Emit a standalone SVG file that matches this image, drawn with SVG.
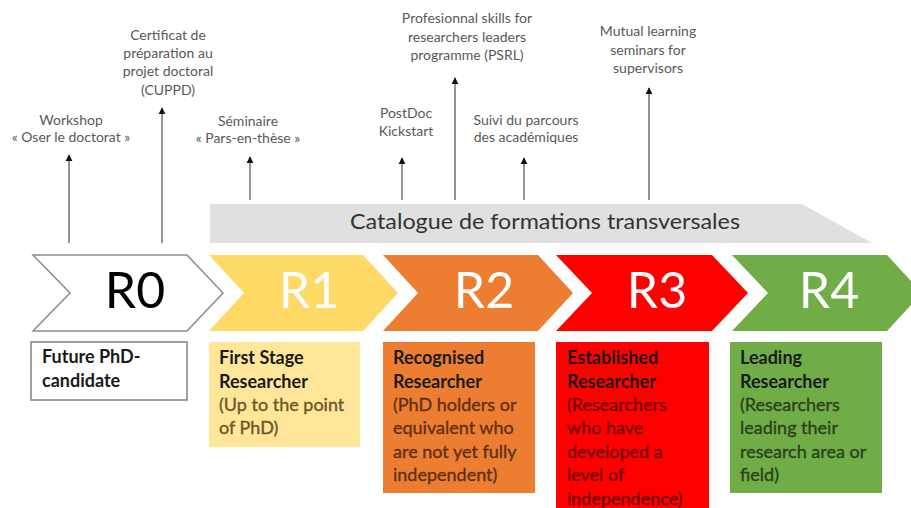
<svg xmlns="http://www.w3.org/2000/svg" width="911" height="508" viewBox="0 0 911 508">
  <style>
    .lbl { font-family: Lato, "Liberation Sans", sans-serif; font-size: 14px; fill: #595959; text-anchor: middle; }
    .band-text { font-family: Lato, "Liberation Sans", sans-serif; font-size: 21px; fill: #333333; text-anchor: middle; }
    .rk { font-family: Lato, "Liberation Sans", sans-serif; font-size: 50px; fill: #ffffff; text-anchor: middle; }
    .desc { font-family: Lato, "Liberation Sans", sans-serif; font-size: 18px; stroke-width: 0.35; }
    .b { font-weight: bold; fill: #1a1a1a; }
    .t1 { fill: #6b5628; stroke: #6b5628; }
    .t2 { fill: #5e3114; stroke: #5e3114; }
    .t3 { fill: #700000; stroke: #700000; }
    .t4 { fill: #2a4219; stroke: #2a4219; }
    .link { stroke: #959595; stroke-width: 2; fill: none; marker-end: url(#head); }
  </style>
  <defs>
    <marker id="head" viewBox="0 0 10 10" refX="9" refY="5" markerWidth="3.6" markerHeight="3.6" orient="auto">
      <path d="M0,0 L10,5 L0,10 Z" fill="#111111"/>
    </marker>
  </defs>
  <rect width="911" height="508" fill="#ffffff"/>

  <!-- transversal training catalogue band -->
  <g id="catalogue">
    <polygon points="210,204 802,204 872,243 210,243" fill="#e0e0e0"/>
    <text class="band-text" x="545" y="229" textLength="390" lengthAdjust="spacingAndGlyphs">Catalogue de formations transversales</text>
  </g>

  <!-- training offers -->
  <g id="workshop">
    <text class="lbl" x="71" y="125">Workshop</text>
    <text class="lbl" x="71" y="142">« Oser le doctorat »</text>
  </g>
  <g id="cuppd">
    <text class="lbl" x="168" y="40">Certificat de</text>
    <text class="lbl" x="168" y="58">préparation au</text>
    <text class="lbl" x="168" y="76">projet doctoral</text>
    <text class="lbl" x="168" y="95">(CUPPD)</text>
  </g>
  <g id="seminaire">
    <text class="lbl" x="248" y="126">Séminaire</text>
    <text class="lbl" x="248" y="143">« Pars-en-thèse »</text>
  </g>
  <g id="postdoc">
    <text class="lbl" x="406" y="118">PostDoc</text>
    <text class="lbl" x="406" y="136">Kickstart</text>
  </g>
  <g id="psrl">
    <text class="lbl" x="467" y="23">Profesionnal skills for</text>
    <text class="lbl" x="467" y="42">researchers leaders</text>
    <text class="lbl" x="467" y="60">programme (PSRL)</text>
  </g>
  <g id="suivi">
    <text class="lbl" x="526" y="125">Suivi du parcours</text>
    <text class="lbl" x="526" y="142">des académiques</text>
  </g>
  <g id="mutual">
    <text class="lbl" x="648" y="36">Mutual learning</text>
    <text class="lbl" x="648" y="55">seminars for</text>
    <text class="lbl" x="648" y="73">supervisors</text>
  </g>

  <!-- connectors -->
  <g id="connectors">
    <line class="link" x1="69" y1="243" x2="69" y2="155"/>
    <line class="link" x1="162" y1="243" x2="162" y2="108"/>
    <line class="link" x1="250" y1="200" x2="250" y2="157"/>
    <line class="link" x1="402" y1="200" x2="402" y2="158"/>
    <line class="link" x1="455" y1="200" x2="455" y2="78"/>
    <line class="link" x1="524" y1="200" x2="524" y2="158"/>
    <line class="link" x1="649" y1="200" x2="649" y2="88"/>
  </g>

  <!-- career stages -->
  <g id="r0">
    <polygon points="33,255 187,255 223,293 187,331 33,331 70,293" fill="#ffffff" stroke="#8c8c8c" stroke-width="1.5"/>
    <text class="rk" x="135" y="308" style="fill:#000000">R0</text>
    <rect x="31" y="342" width="156" height="58" fill="#ffffff" stroke="#808080" stroke-width="1.5"/>
    <text class="desc b" x="42" y="363">Future PhD-</text>
    <text class="desc b" x="42" y="387">candidate</text>
  </g>
  <g id="r1">
    <polygon points="209,255 363,255 398,293 363,331 209,331 244,293" fill="#ffd966"/>
    <text class="rk" x="309" y="308">R1</text>
    <rect x="209" y="342" width="151" height="105" fill="#ffe699"/>
    <text class="desc b" x="219" y="364">First Stage</text>
    <text class="desc b" x="219" y="388">Researcher</text>
    <text class="desc t1" x="219" y="411">(Up to the point</text>
    <text class="desc t1" x="219" y="434">of PhD)</text>
  </g>
  <g id="r2">
    <polygon points="383,255 538,255 573,293 538,331 383,331 418,293" fill="#ed7d31"/>
    <text class="rk" x="484" y="308">R2</text>
    <rect x="383" y="342" width="152" height="151" fill="#ed7d31"/>
    <text class="desc b" x="393" y="364">Recognised</text>
    <text class="desc b" x="393" y="388">Researcher</text>
    <text class="desc t2" x="393" y="411">(PhD holders or</text>
    <text class="desc t2" x="393" y="434">equivalent who</text>
    <text class="desc t2" x="393" y="458">are not yet fully</text>
    <text class="desc t2" x="393" y="481">independent)</text>
  </g>
  <g id="r3">
    <polygon points="556,255 712,255 748,293 712,331 556,331 592,293" fill="#ff0000"/>
    <text class="rk" x="657" y="308">R3</text>
    <rect x="556" y="342" width="153" height="170" fill="#ff0000"/>
    <text class="desc b" x="567" y="364">Established</text>
    <text class="desc b" x="567" y="388">Researcher</text>
    <text class="desc t3" x="567" y="411">(Researchers</text>
    <text class="desc t3" x="567" y="434">who have</text>
    <text class="desc t3" x="567" y="458">developed a</text>
    <text class="desc t3" x="567" y="481">level of</text>
    <text class="desc t3" x="567" y="505">independence)</text>
  </g>
  <g id="r4">
    <polygon points="732,255 887,255 922,293 887,331 732,331 768,293" fill="#70ad47"/>
    <text class="rk" x="829" y="308">R4</text>
    <rect x="730" y="342" width="152" height="151" fill="#70ad47"/>
    <text class="desc b" x="740" y="364">Leading</text>
    <text class="desc b" x="740" y="388">Researcher</text>
    <text class="desc t4" x="740" y="411">(Researchers</text>
    <text class="desc t4" x="740" y="434">leading their</text>
    <text class="desc t4" x="740" y="458">research area or</text>
    <text class="desc t4" x="740" y="481">field)</text>
  </g>
</svg>
